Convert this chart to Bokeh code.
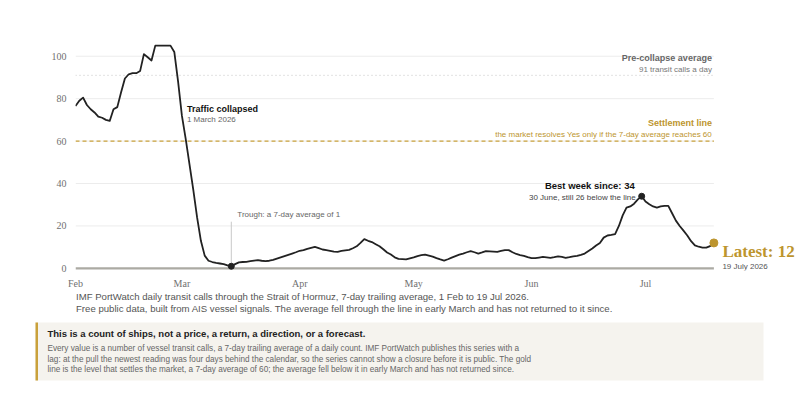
import pandas as pd
from bokeh.plotting import figure
from bokeh.models import Range1d, FixedTicker, DatetimeTickFormatter
from bokeh.core.properties import value
from bokeh.embed import file_html
from bokeh.resources import INLINE

# ---------------- data ----------------
start_date = "2026-02-01"
transits_feb = [76.5, 79, 80.5, 77, 75, 73.5, 71.5, 71, 70, 69.5, 75, 76, 83, 89.5,
                91.5, 92, 92, 93, 101, 99.5, 98, 105, 105, 105, 105, 105, 102, 88]
transits_mar = [72, 61, 49, 37, 24, 13, 6, 3.6, 3, 2.6, 2.3, 2, 1.4, 1, 2, 2.8, 3, 3.1,
                3.4, 3.7, 3.9, 3.6, 3.4, 3.6, 4, 4.6, 5.2, 5.8, 6.4, 7, 7.6]
transits_apr = [8.3, 8.6, 9.2, 9.7, 10.1, 9.5, 8.9, 8.6, 8.3, 7.9, 7.8, 8.2, 8.5, 8.7,
                9.5, 10.4, 12, 13.8, 13, 12.4, 11.4, 10.4, 9, 7.5, 6.5, 5.2, 4.5, 4.4, 4.2, 4.7]
transits_may = [5.2, 5.8, 6.2, 6.5, 6.0, 5.5, 4.8, 4.2, 3.7, 4.3, 5.1, 5.8, 6.5, 7.0, 7.6,
                8.1, 7.6, 7.0, 7.5, 8.1, 8.0, 7.9, 7.8, 8.2, 8.6, 8.6, 7.6, 6.8, 6.3, 5.9, 5.3]
transits_jun = [4.8, 4.8, 5.1, 5.4, 5.2, 5.0, 5.3, 5.7, 5.4, 5.0, 5.3, 5.7, 5.9, 6.4, 7.0,
                8.2, 9.4, 10.8, 12.0, 14.5, 15.5, 15.8, 16.2, 20, 25, 28.6, 29.2, 30.5, 32.5, 34]
transits_jul = [31.5, 30.2, 29.2, 28.6, 29.2, 29.5, 29.5, 26, 22.5, 20, 17.8, 15.5, 12.8,
                10.8, 10.2, 9.8, 9.8, 10.5, 12]
transits = (transits_feb + transits_mar + transits_apr + transits_may
            + transits_jun + transits_jul)

pre_collapse_avg = 91
settlement_level = 60
collapse_date = "2026-03-01"
trough_date = "2026-03-14"
best_date = "2026-06-30"

y_ticks = [0, 20, 40, 60, 80, 100]
month_ticks = ["2026-02-01", "2026-03-01", "2026-04-01", "2026-05-01", "2026-06-01", "2026-07-01"]
month_labels = ["Feb", "Mar", "Apr", "May", "Jun", "Jul"]

caption_lines = [
    "IMF PortWatch daily transit calls through the Strait of Hormuz, 7-day trailing average, 1 Feb to 19 Jul 2026.",
    "Free public data, built from AIS vessel signals. The average fell through the line in early March and has not returned to it since.",
]
note_title = "This is a count of ships, not a price, a return, a direction, or a forecast."
note_lines = [
    "Every value is a number of vessel transit calls, a 7-day trailing average of a daily count. IMF PortWatch publishes this series with a",
    "lag: at the pull the newest reading was four days behind the calendar, so the series cannot show a closure before it is public. The gold",
    "line is the level that settles the market, a 7-day average of 60; the average fell below it in early March and has not returned since.",
]

# ---------------- helpers ----------------
def ms(d):
    return pd.Timestamp(d).value / 1e6

dates = pd.date_range(start_date, periods=len(transits), freq="D")
x_first, x_last = ms(dates[0]), ms(dates[-1])
latest_val = transits[-1]
trough_val = transits[list(dates).index(pd.Timestamp(trough_date))]
best_val = transits[list(dates).index(pd.Timestamp(best_date))]

INK = "#222222"
GOLD = "#bd952e"
GOLD_LINE = "#c9a13b"
SANS = "Liberation Sans"
SERIF = "Liberation Serif"

# ---------------- main chart ----------------
p = figure(width=800, height=291, x_axis_type="datetime",
           x_range=Range1d(x_first, ms("2026-08-10 19:00")),
           y_range=Range1d(-1, 106),
           output_backend="svg", toolbar_location=None,
           min_border_left=75, min_border_right=0, min_border_top=43, min_border_bottom=18)
p.outline_line_color = None
p.xgrid.grid_line_color = None
p.ygrid.grid_line_color = None
p.background_fill_color = "white"
p.border_fill_color = "white"

# gridlines
gy = y_ticks[1:]
p.segment(x0=[x_first] * len(gy), y0=gy, x1=[x_last] * len(gy), y1=gy,
          line_color="#ececec", line_width=1)
# pre-collapse dotted line
p.segment(x0=[x_first], y0=[pre_collapse_avg], x1=[x_last], y1=[pre_collapse_avg],
          line_color="#c4c4c4", line_width=1, line_dash="1 3")
# settlement dashed line
p.segment(x0=[x_first], y0=[settlement_level], x1=[x_last], y1=[settlement_level],
          line_color=GOLD_LINE, line_width=1.3, line_dash="4 3")
# baseline
p.segment(x0=[x_first], y0=[0], x1=[x_last], y1=[0], line_color="#abaaa3", line_width=2.2)

# trough leader
p.segment(x0=[ms(trough_date)], y0=[trough_val], x1=[ms(trough_date)], y1=[22],
          line_color="#c8c8c8", line_width=1)

# series
p.line(dates, transits, line_color=INK, line_width=1.8, line_join="round")

# markers
p.scatter([ms(trough_date)], [trough_val], size=6, color=INK)
p.scatter([ms(best_date)], [best_val], size=6, color=INK)
p.scatter([x_last], [latest_val], size=8, color=GOLD)

# annotations
def txt(fig, x, y, s, size, color, bold=False, align="left", xoff=0, font=SANS):
    fig.text(x=[x], y=[y], text=[s], text_font=value(font), text_font_size=size,
             text_font_style="bold" if bold else "normal", text_color=color,
             text_align=align, text_baseline="middle", x_offset=xoff)

txt(p, x_last, 99.4, "Pre-collapse average", "9px", "#666666", bold=True, align="right", xoff=-2)
txt(p, x_last, 93.9, f"{pre_collapse_avg} transit calls a day", "8px", "#777777", align="right", xoff=-2)
txt(p, x_last, 68.7, "Settlement line", "9px", GOLD, bold=True, align="right", xoff=-2)
txt(p, x_last, 63.3, f"the market resolves Yes only if the 7-day average reaches {settlement_level}",
    "8px", GOLD, align="right", xoff=-2)
txt(p, ms(collapse_date), 75.2, "Traffic collapsed", "9px", "#111111", bold=True, xoff=5)
txt(p, ms(collapse_date), 70.2, "1 March 2026", "8px", "#666666", xoff=5)
txt(p, ms(trough_date), 25.2, f"Trough: a 7-day average of {trough_val:g}", "8px", "#666666", xoff=6)
txt(p, ms(best_date), 39.1, f"Best week since: {best_val:g}", "9.5px", "#111111", bold=True,
    align="right", xoff=-7)
txt(p, ms(best_date), 33.4, f"30 June, still {settlement_level - best_val:g} below the line", "8px",
    "#444444", align="right", xoff=-6)
txt(p, x_last, 8, f"Latest: {latest_val:g}", "17px", GOLD, bold=True, xoff=8.5, font=SERIF)
txt(p, x_last, 1, "19 July 2026", "8px", "#555555", xoff=8.5)

# axes
p.yaxis.ticker = FixedTicker(ticks=y_ticks)
p.xaxis.ticker = FixedTicker(ticks=[ms(m) for m in month_ticks])
fmt = "%b"
p.xaxis.formatter = DatetimeTickFormatter(days=fmt, months=fmt, years=fmt, hours=fmt,
                                          hourmin=fmt, minutes=fmt, minsec=fmt, seconds=fmt,
                                          milliseconds=fmt, microseconds=fmt)
p.xaxis.major_label_overrides = {ms(m): lab for m, lab in zip(month_ticks, month_labels)}
for ax in (p.xaxis, p.yaxis):
    ax.axis_line_color = None
    ax.major_tick_line_color = None
    ax.minor_tick_line_color = None
    ax.major_tick_out = 0
    ax.minor_tick_out = 0
    ax.major_label_text_font = SERIF
    ax.major_label_text_font_size = "10px"
    ax.major_label_text_color = "#707070"
p.yaxis.major_label_standoff = 9
p.xaxis.major_label_standoff = 7

# ---------------- caption + note box ----------------
q = figure(width=800, height=95, x_range=Range1d(0, 800), y_range=Range1d(95, 0),
           output_backend="svg", toolbar_location=None, min_border=0,
           x_axis_location=None, y_axis_location=None)
q.outline_line_color = None
q.xgrid.visible = False
q.ygrid.visible = False
q.text(x=[75.5] * len(caption_lines), y=[5.2, 16.9], text=caption_lines, text_font=value(SANS),
       text_font_size="9.6px", text_color="#555555", text_baseline="middle")
q.quad(left=[35], right=[763], top=[31], bottom=[89], fill_color="#f5f3ee", line_color=None)
q.quad(left=[35], right=[37.5], top=[31], bottom=[89], fill_color=GOLD_LINE, line_color=None)
q.text(x=[47], y=[42], text=[note_title], text_font=value(SANS), text_font_size="9.5px",
       text_font_style="bold", text_color="#222222", text_baseline="middle")
q.text(x=[47] * len(note_lines), y=[57, 67.5, 78], text=note_lines, text_font=value(SANS),
       text_font_size="8.2px", text_color="#666666", text_baseline="middle")

open("out.html", "w").write(file_html([p, q], INLINE))
